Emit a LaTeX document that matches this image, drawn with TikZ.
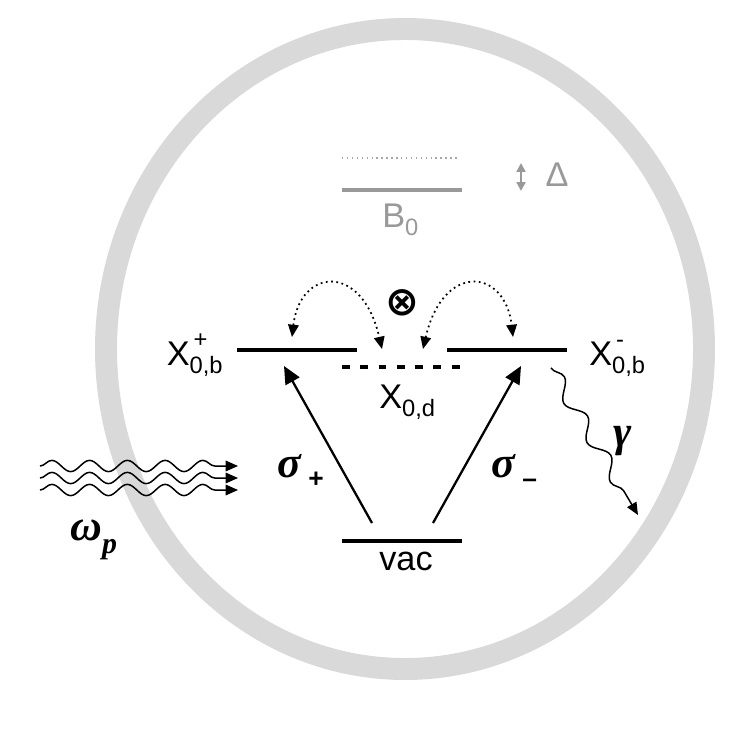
\documentclass[tikz,border=0pt]{standalone}
\usepackage{fontspec}
\setmainfont{Liberation Sans}
\newfontfamily\grkfont{Liberation Serif}
\newfontfamily\symfont{DejaVu Sans}
\usetikzlibrary{arrows.meta,decorations.pathmorphing}
\newcommand{\smallsz}{\fontsize{13.5}{13.5}\selectfont}
\newcommand{\xlev}[2]{X\rlap{\raisebox{0.5em}{\smallsz #1}}\raisebox{-0.24em}{\smallsz #2}}
\newcommand{\xsub}[1]{\raisebox{-0.24em}{\smallsz #1}}
\tikzset{
  level/.style={line width=2.4pt, black},
  glevel/.style={line width=2.4pt, gray!80},
  lbl/.style={font=\fontsize{19.5}{22}\selectfont, inner sep=0pt},
  glbl/.style={lbl, text=gray!80},
  grk/.style={font=\fontsize{25}{26}\selectfont\grkfont\bfseries\itshape, inner sep=0pt},
  pump/.style={-{Triangle[length=7pt,width=6pt]}, line width=0.85pt, decorate, decoration={snake, amplitude=3.2pt, segment length=21.5pt, post length=6pt}},
  excite/.style={-{Triangle[length=10pt,width=9pt]}, line width=1.3pt},
  coup/.style={{Triangle[length=7pt,width=6pt]}-{Triangle[length=7pt,width=6pt]}, dotted, line width=1pt},
}
\begin{document}
\begin{tikzpicture}[x=0.02cm, y=-0.02cm]
\useasboundingbox (0,0) rectangle (733,733);
% cavity
\draw[line width=12.5pt, gray!30] (405,349) ellipse [x radius=299, y radius=320];
% B0 levels
\draw[gray!70, dotted, line width=0.8pt] (342,158) coordinate (bd1) -- (460,158) coordinate (bd2);
\draw[glevel] (342,190) coordinate (b1) -- (462,190) coordinate (b2);
\node[glbl, anchor=base west] (B0) at (382,227) {B\xsub{0}};
\coordinate (dt) at (521,163);
\coordinate (db) at (521,191);
\draw[{Triangle[length=5pt,width=5pt]}-{Triangle[length=5pt,width=5pt]}, line width=1.2pt, gray!80] (dt) -- (db);
\node[glbl, anchor=base] (D) at (557,187) {Δ};
% exciton levels
\draw[level] (237,350) coordinate (p1) -- (357,350) coordinate (p2);
\draw[level] (447,350) coordinate (m1) -- (567,350) coordinate (m2);
\draw[level, dash pattern=on 4.5pt off 5.9pt] (342,367) coordinate (d1) -- (462,367) coordinate (d2);
\node[lbl, anchor=base east] (Xp) at (223,365) {\xlev{\,+}{0,b}};
\node[lbl, anchor=base west] (Xm) at (589,365) {\xlev{\,-}{0,b}};
\node[lbl, anchor=base west] (Xd) at (379,408) {X\xsub{0,d}};
\node[font=\fontsize{23}{24}\selectfont\symfont\bfseries, inner sep=0pt] (ox) at (402,303) {⊗};
% coupling arcs
\coordinate (la) at (292,337);
\coordinate (lb) at (382,349);
\coordinate (ra) at (423,349);
\coordinate (rb) at (513,337);
\draw[coup] (la) .. controls (300,268) and (362,262) .. (lb);
\draw[coup] (ra) .. controls (443,262) and (505,268) .. (rb);
% vac
\draw[level] (342,541) coordinate (v1) -- (462,541) coordinate (v2);
\node[lbl, anchor=base west] (vac) at (379,570) {vac};
% excitation arrows
\coordinate (sp0) at (372,523);
\coordinate (sp1) at (284,366);
\coordinate (sm0) at (433,523);
\coordinate (sm1) at (521,366);
\draw[excite] (sp0) -- (sp1);
\draw[excite] (sm0) -- (sm1);
\node[grk, anchor=base west] (sp) at (277,477) {σ\,\raisebox{-0.25em}{\normalfont\bfseries\fontsize{15}{15}\selectfont +}};
\node[grk, anchor=base west] (sm) at (491,477) {σ\,\raisebox{-0.25em}{\normalfont\bfseries\fontsize{15}{15}\selectfont –}};
% pump
\foreach \yy/\nm in {466/a,478/b,490/c}{
  \coordinate (w\nm0) at (40,\yy);
  \coordinate (w\nm1) at (238,\yy);
  \draw[pump] (w\nm0) -- (w\nm1);
}
\node[grk, anchor=base west] (wp) at (70,540) {ω\raisebox{-0.3em}{\fontsize{17}{17}\selectfont p}};
% emission
\coordinate (g0) at (551,368);
\coordinate (g1) at (638,515);
\draw[pump, decoration={snake, amplitude=4pt, segment length=26pt, post length=5pt}] (g0) -- (g1);
\node[grk] (gam) at (623,441) {γ};
\end{tikzpicture}
\end{document}
